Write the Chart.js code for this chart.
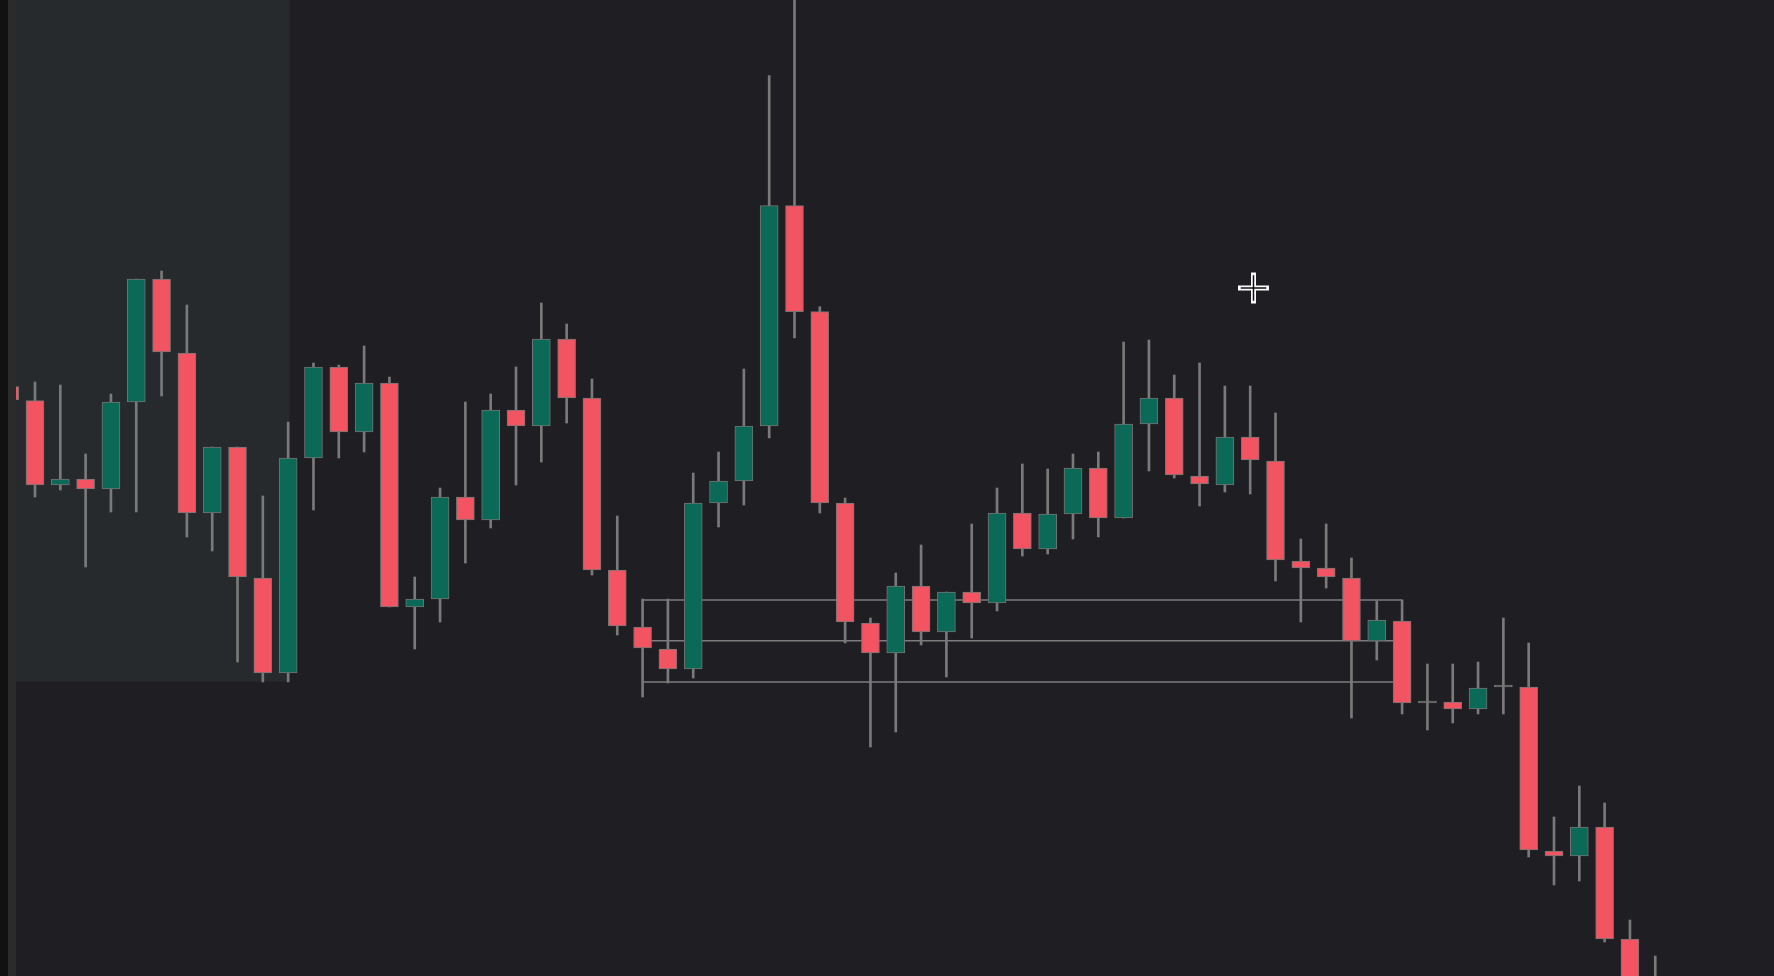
<!DOCTYPE html>
<html>
<head>
<meta charset="utf-8">
<title>Candles</title>
<script src="https://cdn.jsdelivr.net/npm/chart.js@4.4.1/dist/chart.umd.min.js"></script>
<style>
    html, body {
        margin: 0;
        padding: 0;
        background: #1f1e22;
        overflow: hidden;
    }
    #edge1 {
        position: absolute; left: 0; top: 0; width: 8px; height: 976px; background: #111111;
    }
    #edge2 {
        position: absolute; left: 8px; top: 0; width: 8px; height: 976px; background: #2b2b2c;
    }
    #wrap {
        position: absolute; left: 16px; top: 0; width: 1758px; height: 976px;
    }
</style>
</head>
<body>
<div id="edge1"></div>
<div id="edge2"></div>
<div id="wrap"><canvas id="chartCandles" width="1758" height="976"></canvas></div>
<script>
const opens = [158.93, 157.53, 149.1, 149.7, 148.7, 157.4, 169.7, 162.3, 146.3, 152.9,
    139.8, 130.3, 151.8, 160.9, 154.4, 159.3, 136.9, 137.7, 147.9, 145.6,
    156.6, 155.0, 163.7, 157.8, 140.6, 134.9, 132.7, 130.7, 147.3, 149.5,
    155.0, 177.03, 166.43, 147.3, 135.3, 132.3, 139.0, 134.4, 138.4, 137.3,
    146.3, 142.7, 146.2, 150.8, 145.8, 155.2, 157.8, 150.0, 149.1, 153.9,
    151.5, 141.5, 140.8, 139.8, 133.5, 135.5, 127.3, 127.4, 126.7, 128.9,
    128.9, 112.5, 112.0, 114.9, 103.7, 98.6];
const closes = [157.6, 149.1, 149.7, 148.7, 157.4, 169.7, 162.4, 146.3, 152.9, 139.9,
    130.3, 151.8, 160.9, 154.4, 159.3, 136.9, 137.7, 147.9, 145.6, 156.6,
    155.0, 163.7, 157.8, 140.6, 135.0, 132.8, 130.7, 147.3, 149.5, 155.0,
    177.03, 166.43, 147.3, 135.4, 132.3, 139.0, 134.4, 138.4, 137.3, 146.3,
    142.7, 146.2, 150.8, 145.8, 155.2, 157.8, 150.1, 149.2, 153.9, 151.6,
    141.6, 140.8, 139.9, 133.5, 135.6, 127.3, 127.3, 126.7, 128.8, 128.9,
    112.6, 112.0, 114.9, 103.7, 96.6, 93.6];
const highs = [159.3, 159.4, 159.1, 152.2, 158.2, 169.7, 170.5, 167.1, 152.9, 152.9,
    148.0, 155.4, 161.3, 161.1, 163.0, 159.9, 139.9, 148.8, 157.4, 158.2,
    160.9, 167.3, 165.2, 159.7, 146.0, 137.7, 137.7, 150.3, 152.4, 160.7,
    190.03, 200.6, 166.93, 147.8, 135.8, 140.3, 143.1, 138.4, 145.2, 148.8,
    151.2, 150.7, 152.2, 152.4, 163.4, 163.6, 160.1, 161.3, 159.0, 159.0,
    156.3, 143.7, 145.2, 141.8, 137.5, 137.6, 131.2, 131.2, 131.4, 135.8,
    133.3, 115.9, 119.0, 117.3, 105.6, 102.0];
const lows = [157.1, 147.9, 148.6, 140.9, 146.4, 146.4, 158.0, 143.9, 142.5, 131.4,
    129.4, 129.4, 146.6, 151.8, 152.4, 136.9, 132.7, 135.4, 141.3, 144.8,
    149.1, 151.4, 155.3, 140.1, 134.1, 127.9, 129.3, 129.8, 144.9, 147.1,
    153.8, 163.8, 146.3, 133.3, 122.9, 124.4, 133.1, 129.9, 133.8, 136.5,
    142.0, 142.2, 143.7, 143.9, 145.8, 150.5, 149.8, 147.0, 148.4, 148.2,
    139.5, 135.4, 138.8, 125.8, 131.6, 126.2, 124.6, 125.3, 126.2, 126.2,
    111.9, 109.1, 109.5, 103.4, 95.6, 91.6];

// levels drawn from candle 25 to candle 55
const levelPrices = [137.6, 133.53, 129.4];
const levelStart = 25;
const levelEnd = 55;

// shaded zone at the left
const zoneEnd = 11;
const zoneLow = 129.45;

const up = "#0b6a57";
const down = "#f25462";
const flat = "#7a7a7a";

const bodyData = opens.map((o, i) => ({ x: i, y: [o, closes[i]] }));
const wickData = lows.map((l, i) => ({ x: i, y: [l, highs[i]] }));
const bodyColors = opens.map((o, i) => closes[i] > o ? up : (closes[i] < o ? down : flat));

const datasets = [
    {
        type: "bar",
        data: bodyData,
        backgroundColor: bodyColors,
        borderColor: "#737373",
        borderWidth: 1,
        borderSkipped: false,
        barThickness: 18,
        minBarLength: 2,
        grouped: false,
        order: 0,
    },
    {
        type: "bar",
        data: wickData,
        backgroundColor: "#7a7a7a",
        borderWidth: 0,
        barThickness: 2,
        grouped: false,
        order: 1,
    },
];

levelPrices.forEach(function (p) {
    datasets.push({
        type: "line",
        data: [{ x: levelStart, y: p }, { x: levelEnd, y: p }],
        borderColor: "#7c7c7c",
        borderWidth: 1.5,
        pointRadius: 0,
        order: 2,
    });
});

// shaded box behind candles
const zonePlugin = {
    id: "zone",
    beforeDatasetsDraw(chart) {
        const ctx = chart.ctx;
        const xs = chart.scales.x;
        const ys = chart.scales.y;
        const area = chart.chartArea;
        const right = xs.getPixelForValue(zoneEnd) + 1.5;
        const bottom = ys.getPixelForValue(zoneLow);
        ctx.save();
        ctx.fillStyle = "#262a2d";
        ctx.fillRect(area.left, area.top, right - area.left, bottom - area.top);
        ctx.restore();
    },
};

// mouse cross cursor
const cursorPlugin = {
    id: "cursor",
    afterDraw(chart) {
        const ctx = chart.ctx;
        const cx = 1237.5;
        const cy = 288;
        ctx.save();
        ctx.lineCap = "square";
        ctx.strokeStyle = "#ffffff";
        ctx.lineWidth = 5;
        ctx.beginPath();
        ctx.moveTo(cx - 13, cy); ctx.lineTo(cx + 13, cy);
        ctx.moveTo(cx, cy - 13); ctx.lineTo(cx, cy + 13);
        ctx.stroke();
        ctx.strokeStyle = "#111111";
        ctx.lineWidth = 1.5;
        ctx.beginPath();
        ctx.moveTo(cx - 12, cy); ctx.lineTo(cx + 12, cy);
        ctx.moveTo(cx, cy - 12); ctx.lineTo(cx, cy + 12);
        ctx.stroke();
        ctx.restore();
    },
};

const configCandles = {
    type: "bar",
    data: { datasets: datasets },
    options: {
        responsive: false,
        animation: false,
        devicePixelRatio: 1,
        layout: { padding: 0 },
        plugins: {
            legend: { display: false },
            tooltip: { enabled: false },
        },
        scales: {
            x: { type: "linear", min: 0.25, max: 69.69, offset: false, display: false },
            y: { type: "linear", min: 100, max: 197.6, display: false },
        },
    },
    plugins: [zonePlugin, cursorPlugin],
};

let chartCandles = new Chart(document.getElementById("chartCandles"), configCandles);
</script>
</body>
</html>
